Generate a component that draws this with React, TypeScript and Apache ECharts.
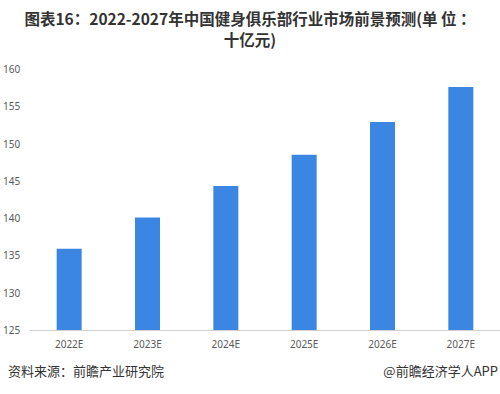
import React, { useEffect, useRef } from "react";
import * as echarts from "echarts";

const categories = ["2022E", "2023E", "2024E", "2025E", "2026E", "2027E"];
const values = [135.9, 140.1, 144.3, 148.5, 152.9, 157.6];
const titleLine1 = "图表16：2022-2027年中国健身俱乐部行业市场前景预测(单 位 ：";
const titleLine2 = "十亿元)";
const sourceText = "资料来源：前瞻产业研究院";
const brandText = "@前瞻经济学人APP";

export default function App() {
  const ref = useRef<HTMLDivElement>(null);
  useEffect(() => {
    if (!ref.current) return;
    const chart = echarts.init(ref.current, null, { renderer: "svg" });
    const titleStyle = {
      fontSize: 15.5,
      lineHeight: 15,
      fontWeight: "bold",
      fill: "#333333",
      fontFamily: "Noto Sans CJK SC",
      align: "center",
      verticalAlign: "middle",
    };
    chart.setOption({
      animation: false,
      backgroundColor: "#ffffff",
      graphic: [
        { type: "text", x: 250, y: 18, style: { ...titleStyle, text: titleLine1 } },
        { type: "text", x: 250, y: 39, style: { ...titleStyle, text: titleLine2 } },
        {
          type: "text",
          left: 8,
          top: 364,
          style: { text: sourceText, fontSize: 13, fill: "#333333", fontFamily: "Noto Sans CJK SC" },
        },
        {
          type: "text",
          right: 2,
          top: 364,
          style: { text: brandText, fontSize: 13, fill: "#333333", fontFamily: "Noto Sans CJK SC" },
        },
      ],
      grid: { left: 30, right: 0, top: 69, bottom: 64 },
      xAxis: {
        type: "category",
        data: categories,
        axisLine: { lineStyle: { color: "#d0d0d0" } },
        axisTick: { show: false },
        axisLabel: { color: "#595959", fontSize: 10, margin: 9, fontFamily: "Noto Sans" },
      },
      yAxis: {
        type: "value",
        min: 125,
        max: 160,
        interval: 5,
        axisLine: { show: false },
        axisTick: { show: false },
        splitLine: { show: false },
        axisLabel: { color: "#595959", fontSize: 10, align: "left", margin: 27, fontFamily: "Noto Sans" },
      },
      series: [
        {
          type: "bar",
          data: values,
          barWidth: 25,
          itemStyle: { color: "#3a86e2" },
        },
      ],
    });
    return () => chart.dispose();
  }, []);
  return <div ref={ref} style={{ width: 500, height: 394, position: "absolute", left: 0, top: 0 }} />;
}
